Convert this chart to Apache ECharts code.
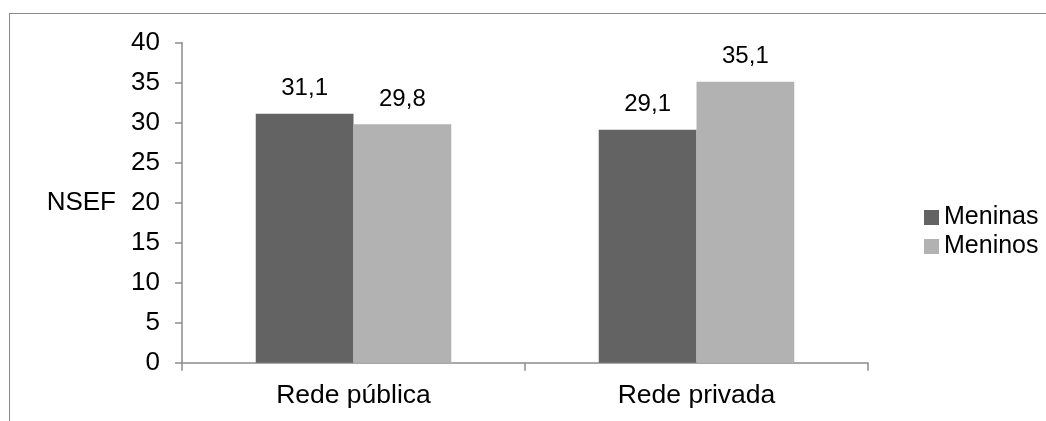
<!DOCTYPE html>
<html>
<head>
<meta charset="utf-8">
<script src="https://cdn.jsdelivr.net/npm/echarts@6/dist/echarts.min.js"></script>
<style>
  html, body { margin: 0; padding: 0; background: #fff; overflow: hidden; }
  #chart { position: absolute; left: 0; top: 0; width: 1046px; height: 421px; }
  #frame { position: absolute; left: 9px; top: 13px; width: 1100px; height: 500px;
           border: 1.5px solid #8a8a8a; box-sizing: border-box; pointer-events: none; }
</style>
</head>
<body>
<div id="chart"></div>
<div id="frame"></div>
<script>
// NSEF por rede de ensino e sexo
const categories = ['Rede pública', 'Rede privada'];
const meninas = [31.1, 29.1];
const meninos = [29.8, 35.1];
const yTicks = [0, 5, 10, 15, 20, 25, 30, 35, 40];

const FONT = '"Liberation Sans", Arial, sans-serif';
const axisGray = '#8c8c8c';

const fmt = p => String(p.value).replace('.', ',');

const chart = echarts.init(document.getElementById('chart'), null, { renderer: 'canvas' });
chart.setOption({
  animation: false,
  textStyle: { fontFamily: FONT, color: '#000' },
  grid: { left: 182, right: 178, top: 42.5, bottom: 58.3, containLabel: false },
  legend: {
    orient: 'vertical',
    left: 919,
    top: 200,
    itemWidth: 15,
    itemHeight: 15,
    itemGap: 4,
    icon: 'rect',
    textStyle: { fontFamily: FONT, fontSize: 25, color: '#000' },
    data: ['Meninas', 'Meninos']
  },
  xAxis: {
    type: 'category',
    data: categories,
    axisLine: { lineStyle: { color: axisGray, width: 1.5 } },
    axisTick: { show: true, length: 8, lineStyle: { color: axisGray, width: 1.5 } },
    axisLabel: { fontFamily: FONT, fontSize: 26.5, color: '#000', margin: 19 },
    splitLine: { show: false }
  },
  yAxis: {
    type: 'value',
    min: yTicks[0],
    max: yTicks[yTicks.length - 1],
    interval: yTicks[1] - yTicks[0],
    name: 'NSEF',
    nameLocation: 'middle',
    nameRotate: 0,
    nameGap: 66,
    nameTextStyle: { fontFamily: FONT, fontSize: 26, color: '#000' },
    axisLine: { show: true, lineStyle: { color: axisGray, width: 1.5 } },
    axisTick: { show: true, length: 7, lineStyle: { color: axisGray, width: 1.5 } },
    axisLabel: { fontFamily: FONT, fontSize: 26, color: '#000', margin: 22 },
    splitLine: { show: false }
  },
  series: [
    {
      name: 'Meninas',
      type: 'bar',
      data: meninas,
      barGap: '0%',
      barCategoryGap: '43%',
      itemStyle: { color: '#636363' },
      label: { show: true, position: 'top', distance: 13, fontFamily: FONT, fontSize: 24, color: '#000', formatter: fmt }
    },
    {
      name: 'Meninos',
      type: 'bar',
      data: meninos,
      barGap: '0%',
      barCategoryGap: '43%',
      itemStyle: { color: '#b2b2b2' },
      label: { show: true, position: 'top', distance: 13, fontFamily: FONT, fontSize: 24, color: '#000', formatter: fmt }
    }
  ]
});
</script>
</body>
</html>
